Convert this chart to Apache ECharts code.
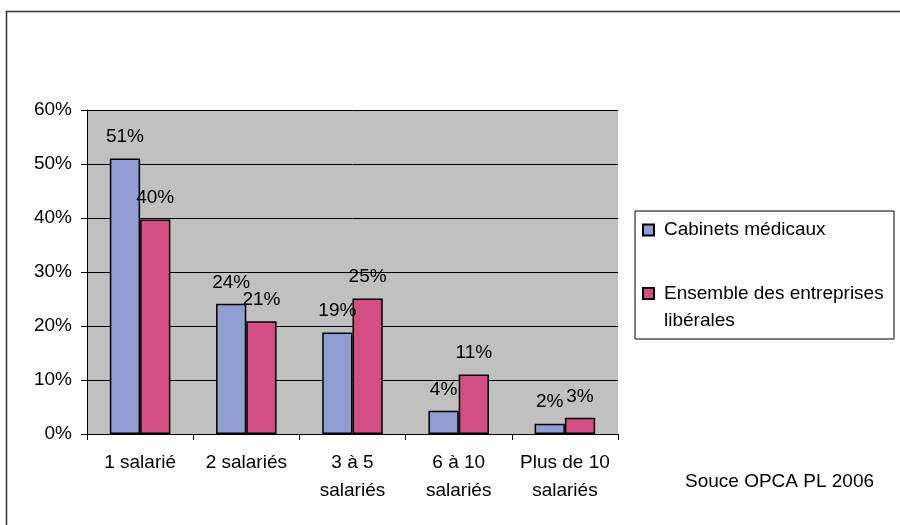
<!DOCTYPE html>
<html>
<head>
<meta charset="utf-8">
<script src="https://cdn.jsdelivr.net/npm/echarts@6/dist/echarts.min.js"></script>
<style>
html,body{margin:0;padding:0;background:#fff;}
#chart{width:900px;height:525px;}
</style>
</head>
<body>
<div id="chart"></div>
<script>
const categories = ['1 salarié', '2 salariés', '3 à 5\nsalariés', '6 à 10\nsalariés', 'Plus de 10\nsalariés'];
const seriesNames = ['Cabinets médicaux', 'Ensemble des entreprises libérales'];
const cabinets = [51, 24.1, 18.8, 4.3, 1.9];
const ensemble = [39.7, 20.9, 25.1, 11, 3];
const yTicks = [0, 10, 20, 30, 40, 50, 60];
const sourceText = 'Souce OPCA PL 2006';

const FONT = 'Liberation Sans, Arial, sans-serif';
const FS = 19;
const chart = echarts.init(document.getElementById('chart'), null, {renderer: 'canvas'});

const labelOpt = {
  show: true,
  position: 'top',
  distance: 12,
  color: '#000',
  fontFamily: FONT,
  fontSize: FS,
  formatter: p => Math.round(p.value) + '%'
};

chart.setOption({
  animation: false,
  backgroundColor: '#fff',
  textStyle: {fontFamily: FONT},
  grid: {
    left: 87, right: 282, top: 110, bottom: 91,
    show: true, backgroundColor: '#C0C0C0', borderWidth: 0,
    containLabel: false
  },
  legend: {
    orient: 'vertical',
    left: 635,
    top: 211,
    padding: [6, 5, 5, 7],
    itemGap: 10,
    itemWidth: 11,
    itemHeight: 11,
    backgroundColor: '#fff',
    borderColor: '#000',
    borderWidth: 1,
    icon: 'rect',
    selectedMode: false,
    textStyle: {fontFamily: FONT, fontSize: FS, color: '#000', lineHeight: 26, width: 225},
    formatter: name => name === seriesNames[1] ? '\u00a0\nEnsemble des entreprises\nlibérales' : name,
    data: [
      {name: seriesNames[0], textStyle: {padding: [0, 0, 0, 5]}},
      {name: seriesNames[1], textStyle: {padding: [0, 0, 0, 5], lineHeight: 27}}
    ]
  },
  xAxis: {
    type: 'category',
    data: categories,
    axisLine: {show: true, lineStyle: {color: '#000', width: 1}},
    axisTick: {show: true, length: 6, alignWithLabel: false, lineStyle: {color: '#000'}},
    axisLabel: {color: '#000', fontFamily: FONT, fontSize: FS, lineHeight: 28, margin: 15, interval: 0},
    splitLine: {show: false}
  },
  yAxis: {
    type: 'value',
    min: yTicks[0],
    max: yTicks[yTicks.length - 1],
    interval: 10,
    axisLine: {show: true, lineStyle: {color: '#000', width: 1}},
    axisTick: {show: true, length: 6, lineStyle: {color: '#000'}},
    axisLabel: {color: '#000', fontFamily: FONT, fontSize: FS, margin: 15, formatter: '{value}%'},
    splitLine: {show: true, lineStyle: {color: '#000', width: 1}}
  },
  series: [
    {
      name: seriesNames[0],
      type: 'bar',
      data: cabinets,
      barGap: '0%',
      barCategoryGap: '43%',
      itemStyle: {color: '#8F9DD1', borderColor: '#000', borderWidth: 1.5},
      label: labelOpt
    },
    {
      name: seriesNames[1],
      type: 'bar',
      data: ensemble,
      barGap: '0%',
      barCategoryGap: '43%',
      itemStyle: {color: '#D14F82', borderColor: '#000', borderWidth: 1.5},
      label: labelOpt
    }
  ],
  graphic: [
    {
      type: 'rect',
      silent: true,
      z: -10,
      shape: {x: 6.5, y: 11.5, width: 1000, height: 1000},
      style: {fill: null, stroke: '#333', lineWidth: 1.5}
    },
    {
      type: 'text',
      left: 685,
      top: 472,
      style: {text: sourceText, fill: '#000', font: FS + 'px ' + FONT}
    }
  ]
});
</script>
</body>
</html>
